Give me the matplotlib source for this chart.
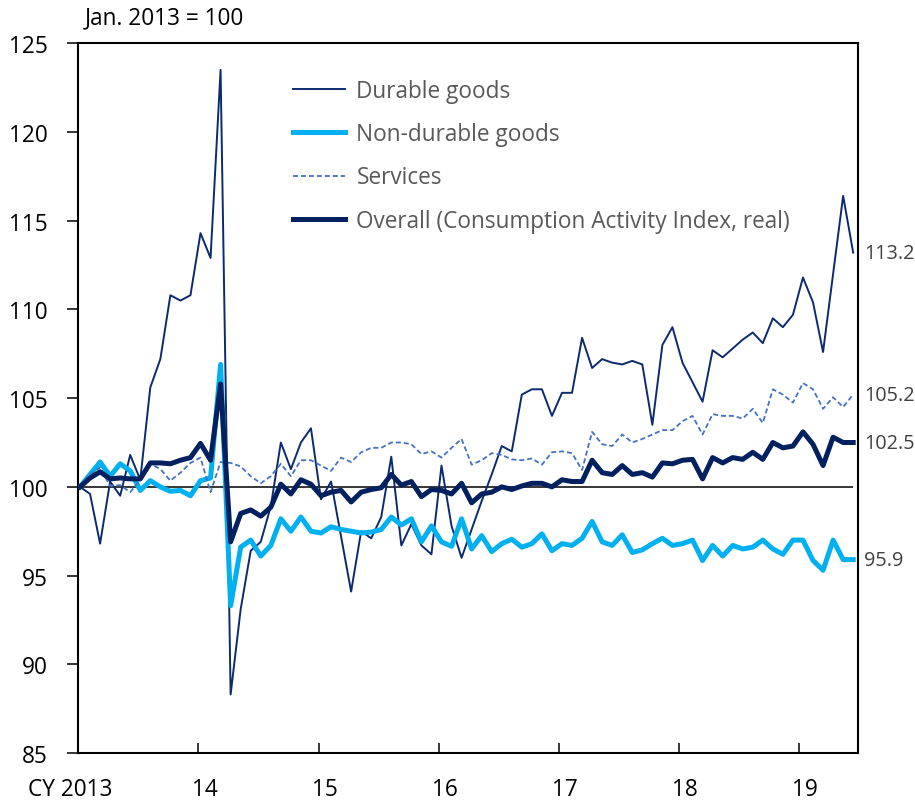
import numpy as np
import matplotlib.pyplot as plt
from matplotlib.transforms import ScaledTranslation

plt.rcParams['font.family'] = ['Open Sans', 'DejaVu Sans']

# monthly index, Jan. 2013 = 100 (Jan 2013 .. Jun 2019)
durable = [100.0, 99.6, 96.8, 100.3, 99.5, 101.8, 100.4, 105.6, 107.2, 110.8, 110.5, 110.8,
           114.3, 112.9, 123.5, 88.3, 93.1, 96.4, 96.9, 98.9, 102.5, 101.0, 102.5, 103.3,
           99.3, 100.3, 97.2, 94.1, 97.5, 97.1, 98.3, 101.7, 96.7, 97.9, 96.7, 96.2,
           101.2, 97.8, 96.0, 97.6, 99.2, 100.7, 102.3, 102.0, 105.2, 105.5, 105.5, 104.0,
           105.3, 105.3, 108.4, 106.7, 107.2, 107.0, 106.9, 107.1, 106.9, 103.5, 108.0, 109.0,
           107.0, 105.9, 104.8, 107.7, 107.3, 107.8, 108.3, 108.7, 108.1, 109.5, 109.0, 109.7,
           111.8, 110.4, 107.6, 112.0, 116.4, 113.2]
nondurable = [100.0, 100.7, 101.4, 100.6, 101.3, 100.9, 99.8, 100.35, 100.0, 99.75, 99.8, 99.5,
              100.35, 100.5, 106.9, 93.3, 96.6, 97.0, 96.1, 96.7, 98.2, 97.5, 98.3, 97.5,
              97.4, 97.75, 97.6, 97.5, 97.4, 97.45, 97.6, 98.3, 97.85, 98.2, 96.9, 97.8,
              96.9, 96.65, 98.2, 96.5, 97.25, 96.35, 96.8, 97.05, 96.6, 96.8, 97.35, 96.4,
              96.8, 96.7, 97.1, 98.05, 96.9, 96.7, 97.3, 96.3, 96.45, 96.8, 97.1, 96.7,
              96.8, 97.0, 95.85, 96.7, 96.1, 96.7, 96.5, 96.6, 97.0, 96.5, 96.2, 97.0,
              97.0, 95.85, 95.3, 97.0, 95.9, 95.9]
services = [100.0, 100.7, 101.1, 100.05, 100.1, 99.7, 100.4, 101.3, 101.0, 100.35, 100.8, 101.35,
            101.65, 99.7, 101.4, 101.35, 101.15, 100.6, 100.2, 100.6, 101.3, 100.6, 101.5, 101.5,
            101.2, 100.9, 101.65, 101.4, 101.95, 102.2, 102.2, 102.5, 102.5, 102.4, 101.85, 102.0,
            101.65, 102.2, 102.7, 101.25, 101.5, 101.9, 101.8, 101.55, 101.5, 101.6, 101.25, 101.95,
            102.0, 101.9, 100.95, 103.1, 102.4, 102.3, 102.95, 102.5, 102.7, 102.95, 103.2, 103.2,
            103.7, 104.0, 102.95, 104.1, 104.0, 104.0, 103.85, 104.4, 103.6, 105.5, 105.2, 104.75,
            105.85, 105.5, 104.4, 105.05, 104.5, 105.2]
overall = [100.0, 100.5, 100.85, 100.45, 100.5, 100.45, 100.45, 101.35, 101.35, 101.3, 101.5, 101.65,
           102.45, 101.5, 105.8, 96.9, 98.5, 98.7, 98.35, 98.85, 100.15, 99.6, 100.4, 100.15,
           99.5, 99.7, 99.8, 99.15, 99.7, 99.85, 99.95, 100.7, 100.1, 100.3, 99.45, 99.85,
           99.8, 99.6, 100.2, 99.1, 99.6, 99.7, 100.0, 99.85, 100.05, 100.2, 100.2, 100.0,
           100.4, 100.3, 100.3, 101.5, 100.8, 100.7, 101.2, 100.7, 100.8, 100.55, 101.35, 101.3,
           101.5, 101.55, 100.45, 101.65, 101.35, 101.65, 101.55, 101.95, 101.55, 102.5, 102.2, 102.3,
           103.1, 102.4, 101.2, 102.8, 102.5, 102.5]

year_labels = ["CY 2013", "14", "15", "16", "17", "18", "19"]
y_ticks = [85, 90, 95, 100, 105, 110, 115, 120, 125]

FS = 16.3
fig = plt.figure(figsize=(9.15, 8.04), dpi=100)
ax = fig.add_axes([78.3 / 915, 1 - 754 / 804, (857.7 - 78.3) / 915, (754 - 44.3) / 804])

x = np.arange(len(durable))
ax.hlines(100, x[0], x[-1], color="black", lw=1.1, zorder=1)

ax.plot(x, durable, color="#0b2a6f", lw=1.4, label="Durable goods", zorder=2)
ax.plot(x, nondurable, color="#00b0f0", lw=3.6, label="Non-durable goods", zorder=3)
ax.plot(x, services, color="#4472c4", lw=1.3, ls=(0, (2.8, 1.6)), label="Services", zorder=4)
ax.plot(x, overall, color="#002060", lw=3.6,
        label="Overall (Consumption Activity Index, real)", zorder=5)

ax.set_xlim(-0.17, 77.45)
ax.set_ylim(85, 125)
ax.set_yticks(y_ticks)
ax.tick_params(axis="y", direction="out", length=8, width=1.1, pad=14, labelsize=FS)
xt = np.arange(len(year_labels)) * 11.966 - 0.17
ax.set_xticks(xt, year_labels)
ax.tick_params(axis="x", direction="in", length=7.5, width=1.1, pad=17, labelsize=FS)
for i, lab in enumerate(ax.get_xticklabels()):
    dx = -8 if i == 0 else 6
    lab.set_transform(lab.get_transform() + ScaledTranslation(dx / 100, 0, fig.dpi_scale_trans))
for sp in ax.spines.values():
    sp.set_linewidth(1.5)

# end-of-series values
for s in [durable, services, overall, nondurable]:
    ax.annotate(f"{s[-1]:.1f}", xy=(x[-1], s[-1]), xytext=(8, 0), textcoords="offset points",
                va="center", ha="left", fontsize=14.3, color="#404040", annotation_clip=False)

leg = ax.legend(loc="upper left", bbox_to_anchor=((293 - 78.3) / 779.4, 1 - (80 - 44.3) / 709.7),
                frameon=False, borderaxespad=0, borderpad=0, handlelength=2.3, handletextpad=0.5,
                labelspacing=0.85, fontsize=FS)
for t in leg.get_texts():
    t.set_color("#595959")

fig.text(85 / 915, 1 - 18 / 804, "Jan. 2013 = 100", fontsize=FS, va="center", ha="left")

fig.savefig("out.png", dpi=100)
